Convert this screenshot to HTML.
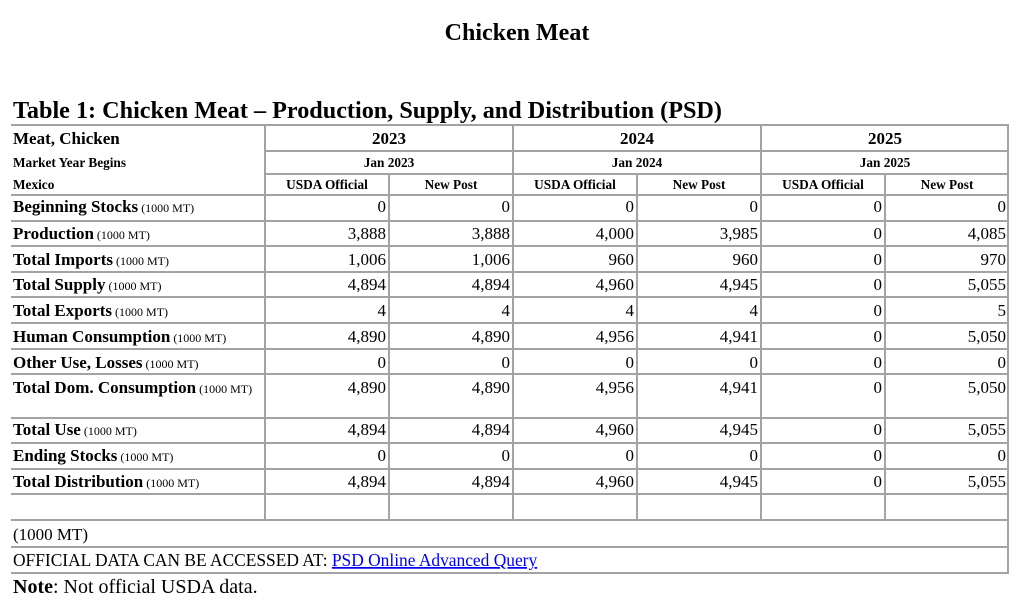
<!DOCTYPE html>
<html><head><meta charset="utf-8"><style>
html,body{margin:0;padding:0;background:#fff;}
svg{display:block;font-family:"Liberation Serif",serif;}
.b{font-weight:bold;}
</style></head><body>
<svg width="1027" height="604" viewBox="0 0 1027 604" xmlns="http://www.w3.org/2000/svg">
<text x="517" y="40" text-anchor="middle" class="b" font-size="24">Chicken Meat</text>
<text x="13" y="118" class="b" font-size="24.2">Table 1: Chicken Meat – Production, Supply, and Distribution (PSD)</text>
<g stroke="#a3a3a3" stroke-width="2" fill="none">
<line x1="11" y1="125" x2="1009" y2="125"/>
<line x1="265" y1="151" x2="1009" y2="151"/>
<line x1="265" y1="174" x2="1009" y2="174"/>
<line x1="11" y1="195" x2="1009" y2="195"/>
<line x1="11" y1="221" x2="1009" y2="221"/>
<line x1="11" y1="246" x2="1009" y2="246"/>
<line x1="11" y1="272" x2="1009" y2="272"/>
<line x1="11" y1="297" x2="1009" y2="297"/>
<line x1="11" y1="323" x2="1009" y2="323"/>
<line x1="11" y1="349" x2="1009" y2="349"/>
<line x1="11" y1="374" x2="1009" y2="374"/>
<line x1="11" y1="418" x2="1009" y2="418"/>
<line x1="11" y1="443" x2="1009" y2="443"/>
<line x1="11" y1="469" x2="1009" y2="469"/>
<line x1="11" y1="494" x2="1009" y2="494"/>
<line x1="11" y1="520" x2="1009" y2="520"/>
<line x1="11" y1="547" x2="1009" y2="547"/>
<line x1="11" y1="573" x2="1009" y2="573"/>
<line x1="265" y1="125" x2="265" y2="520"/>
<line x1="513" y1="125" x2="513" y2="520"/>
<line x1="761" y1="125" x2="761" y2="520"/>
<line x1="1008" y1="125" x2="1008" y2="573"/>
<line x1="389" y1="174" x2="389" y2="520"/>
<line x1="637" y1="174" x2="637" y2="520"/>
<line x1="885" y1="174" x2="885" y2="520"/>
</g>
<text x="13" y="144" class="b" font-size="17">Meat, Chicken</text>
<text x="13" y="167" class="b" font-size="13.3">Market Year Begins</text>
<text x="13" y="189" class="b" font-size="13.3">Mexico</text>
<g class="b" text-anchor="middle">
<text x="389" y="144" font-size="17">2023</text>
<text x="637" y="144" font-size="17">2024</text>
<text x="885" y="144" font-size="17">2025</text>
<text x="389" y="167" font-size="13.3">Jan 2023</text>
<text x="637" y="167" font-size="13.3">Jan 2024</text>
<text x="885" y="167" font-size="13.3">Jan 2025</text>
<text x="327" y="189" font-size="13.3">USDA Official</text>
<text x="451" y="189" font-size="13.3">New Post</text>
<text x="575" y="189" font-size="13.3">USDA Official</text>
<text x="699" y="189" font-size="13.3">New Post</text>
<text x="823" y="189" font-size="13.3">USDA Official</text>
<text x="947" y="189" font-size="13.3">New Post</text>
</g>
<g font-size="17">
<text x="13" y="212"><tspan class="b">Beginning Stocks</tspan><tspan font-size="12"> (1000 MT)</tspan></text>
<text x="13" y="239"><tspan class="b">Production</tspan><tspan font-size="12"> (1000 MT)</tspan></text>
<text x="13" y="265"><tspan class="b">Total Imports</tspan><tspan font-size="12"> (1000 MT)</tspan></text>
<text x="13" y="290"><tspan class="b">Total Supply</tspan><tspan font-size="12"> (1000 MT)</tspan></text>
<text x="13" y="316"><tspan class="b">Total Exports</tspan><tspan font-size="12"> (1000 MT)</tspan></text>
<text x="13" y="342"><tspan class="b">Human Consumption</tspan><tspan font-size="12"> (1000 MT)</tspan></text>
<text x="13" y="368"><tspan class="b">Other Use, Losses</tspan><tspan font-size="12"> (1000 MT)</tspan></text>
<text x="13" y="393"><tspan class="b">Total Dom. Consumption</tspan><tspan font-size="12"> (1000 MT)</tspan></text>
<text x="13" y="435"><tspan class="b">Total Use</tspan><tspan font-size="12"> (1000 MT)</tspan></text>
<text x="13" y="461"><tspan class="b">Ending Stocks</tspan><tspan font-size="12"> (1000 MT)</tspan></text>
<text x="13" y="487"><tspan class="b">Total Distribution</tspan><tspan font-size="12"> (1000 MT)</tspan></text>
</g>
<g font-size="17" text-anchor="end">
<g transform="translate(0,212)"><text x="386">0</text><text x="510">0</text><text x="634">0</text><text x="758">0</text><text x="882">0</text><text x="1006">0</text></g>
<g transform="translate(0,239)"><text x="386">3,888</text><text x="510">3,888</text><text x="634">4,000</text><text x="758">3,985</text><text x="882">0</text><text x="1006">4,085</text></g>
<g transform="translate(0,265)"><text x="386">1,006</text><text x="510">1,006</text><text x="634">960</text><text x="758">960</text><text x="882">0</text><text x="1006">970</text></g>
<g transform="translate(0,290)"><text x="386">4,894</text><text x="510">4,894</text><text x="634">4,960</text><text x="758">4,945</text><text x="882">0</text><text x="1006">5,055</text></g>
<g transform="translate(0,316)"><text x="386">4</text><text x="510">4</text><text x="634">4</text><text x="758">4</text><text x="882">0</text><text x="1006">5</text></g>
<g transform="translate(0,342)"><text x="386">4,890</text><text x="510">4,890</text><text x="634">4,956</text><text x="758">4,941</text><text x="882">0</text><text x="1006">5,050</text></g>
<g transform="translate(0,368)"><text x="386">0</text><text x="510">0</text><text x="634">0</text><text x="758">0</text><text x="882">0</text><text x="1006">0</text></g>
<g transform="translate(0,393)"><text x="386">4,890</text><text x="510">4,890</text><text x="634">4,956</text><text x="758">4,941</text><text x="882">0</text><text x="1006">5,050</text></g>
<g transform="translate(0,435)"><text x="386">4,894</text><text x="510">4,894</text><text x="634">4,960</text><text x="758">4,945</text><text x="882">0</text><text x="1006">5,055</text></g>
<g transform="translate(0,461)"><text x="386">0</text><text x="510">0</text><text x="634">0</text><text x="758">0</text><text x="882">0</text><text x="1006">0</text></g>
<g transform="translate(0,487)"><text x="386">4,894</text><text x="510">4,894</text><text x="634">4,960</text><text x="758">4,945</text><text x="882">0</text><text x="1006">5,055</text></g>
</g>
<text x="13" y="540" font-size="17">(1000 MT)</text>
<text x="13" y="566" font-size="17.4">OFFICIAL DATA CAN BE ACCESSED AT: <tspan fill="#0000ee" text-decoration="underline">PSD Online Advanced Query</tspan></text>
<text x="13" y="593" font-size="20"><tspan class="b">Note</tspan>: Not official USDA data.</text>
</svg>
</body></html>
